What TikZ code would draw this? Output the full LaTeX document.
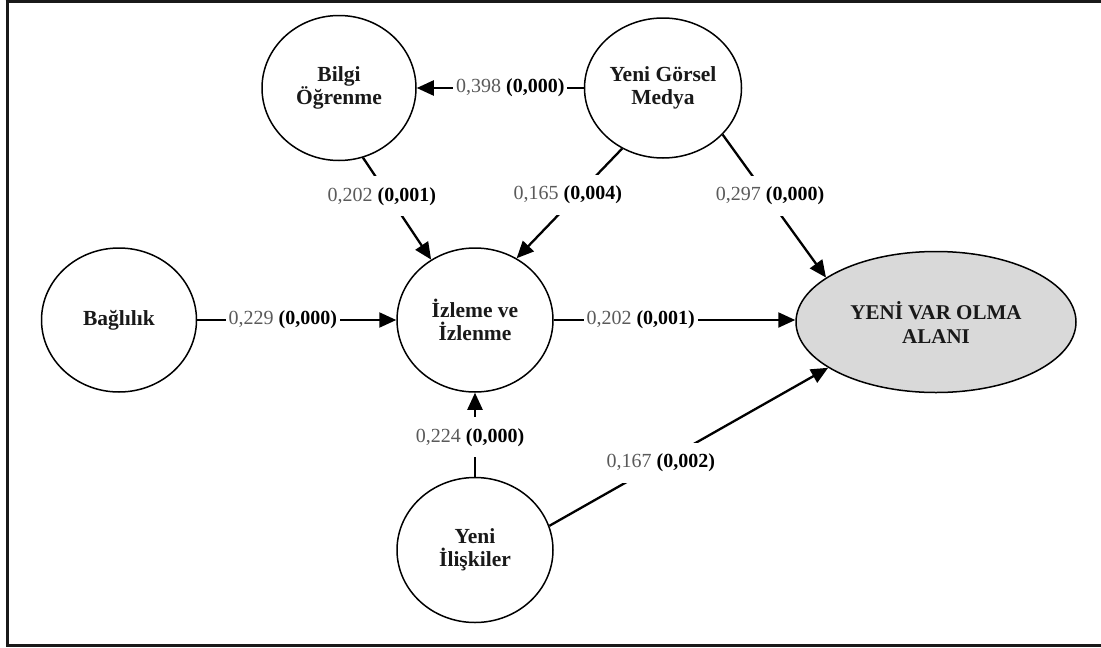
\documentclass[tikz,border=0pt]{standalone}
\usepackage{fontspec}
\setmainfont{Liberation Serif}
\usetikzlibrary{arrows.meta,shapes.geometric}
\definecolor{numgray}{RGB}{90,90,90}
\definecolor{outfill}{RGB}{217,217,217}
\tikzset{
  var/.style={draw, line width=1.5pt, ellipse, inner sep=0pt, align=center,
    font=\fontsize{21.5}{23}\selectfont\bfseries, text=black!90},
  conn/.style={line width=2.3pt, -{Triangle[length=17pt,width=15pt]}},
  lbl/.style={fill=white, inner xsep=3pt, inner ysep=11pt,
    font=\fontsize{20}{22}\selectfont},
  frameline/.style={line width=3pt, black!90}
}
\newcommand{\coef}[2]{{\color{numgray}#1} \textbf{(#2)}}
\begin{document}
\begin{tikzpicture}[x=1pt,y=-1pt]
\useasboundingbox (0,0) rectangle (1101,648);
\draw[frameline] (7,-2) -- (7,645.5) -- (1103,645.5);
\draw[frameline] (5.5,1) -- (1103,1);

\node[var, minimum width=154pt, minimum height=145pt] (bilgi) at (339,88) {Bilgi\\Öğrenme};
\node[var, minimum width=157pt, minimum height=140pt] (gorsel) at (663,88) {Yeni Görsel\\Medya};
\node[var, minimum width=156pt, minimum height=144pt] (izl) at (475,320) {İzleme ve\\İzlenme};
\node[var, minimum width=155pt, minimum height=144pt] (bag) at (119,320) {Bağlılık};
\node[var, minimum width=156pt, minimum height=145pt] (iliski) at (475,550) {Yeni\\İlişkiler};
\node[var, fill=outfill, minimum width=280pt, minimum height=141pt,
  font=\fontsize{21}{24}\selectfont\bfseries] (yeni) at (936,322) {YENİ VAR OLMA\\ALANI};

\draw[conn] (gorsel.west |- 0,88) -- node[lbl, pos=0.44] {\coef{0,398}{0,000}} (bilgi.east |- 0,88);
\draw[conn] (bilgi.-71) -- node[lbl, pos=0.38, xshift=-7pt] {\coef{0,202}{0,001}} (izl.126);
\draw[conn] (gorsel.236) -- node[lbl, pos=0.42, xshift=-10pt] {\coef{0,165}{0,004}} (izl.56);
\draw[conn] (gorsel.-38) -- node[lbl, pos=0.43, xshift=3pt] {\coef{0,297}{0,000}} (yeni.158);
\draw[conn] (bag.east) -- node[lbl, pos=0.43] {\coef{0,229}{0,000}} (izl.west);
\draw[conn] (izl.east) -- node[lbl, pos=0.36] {\coef{0,202}{0,001}} (izl.east -| yeni.west);
\draw[conn] (iliski.north) -- node[lbl, pos=0.47, xshift=-5pt] {\coef{0,224}{0,000}} (izl.south);
\draw[conn] (iliski.18) -- node[lbl, pos=0.4] {\coef{0,167}{0,002}} (yeni.203);
\end{tikzpicture}
\end{document}
